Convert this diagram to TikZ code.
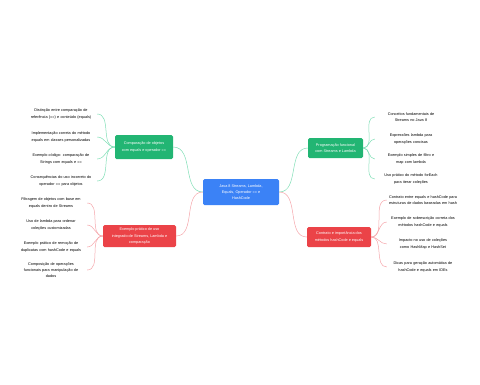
\documentclass[tikz,border=0pt]{standalone}
\usepackage{fontspec}
\setmainfont{Liberation Sans}
\usepackage{tikz}
\usetikzlibrary{positioning}
\definecolor{mmblue}{RGB}{59,130,246}
\definecolor{mmgreen}{RGB}{34,181,115}
\definecolor{mmred}{RGB}{235,67,72}
\definecolor{linkgreen}{RGB}{128,222,182}
\definecolor{linkred}{RGB}{245,165,170}

\begin{document}
\begin{tikzpicture}[x=1pt,y=-1pt,font=\fontsize{3.8}{6.2}\selectfont,
  hub/.style={rounded corners=1.5pt,fill=mmblue,text=white,align=center,inner sep=0pt,minimum width=76pt,minimum height=26pt},
  topic/.style={rounded corners=1.5pt,text=white,align=center,inner sep=0pt},
  leaf/.style={align=center,text width=72pt,inner sep=0pt},
  glink/.style={draw=linkgreen,line width=0.5pt},
  rlink/.style={draw=linkred,line width=0.5pt}]
\useasboundingbox (0,0) rectangle (480,384);
\node[hub] (java) at (241,192) {Java 8 Streams, Lambda,\\Equals, Operador == e\\HashCode};
\node[topic,fill=mmgreen,minimum width=58pt,minimum height=24pt] (cmp) at (144,147) {Comparação de objetos\\com equals e operador ==};
\node[topic,fill=mmgreen,minimum width=55pt,minimum height=20pt] (fun) at (335.5,148) {Programação funcional\\com Streams e Lambda};
\node[topic,fill=mmred,minimum width=73pt,minimum height=22pt] (pra) at (139.5,236) {Exemplo prático de uso\\integrado de Streams, Lambda e\\comparação};
\node[topic,fill=mmred,minimum width=64pt,minimum height=20pt] (hsh) at (339,237) {Contrato e importância dos\\métodos hashCode e equals};

% comparacao
\node[leaf] (cmp1) at (61,114) {Distinção entre comparação de\\referência (==) e conteúdo (equals)};
\node[leaf] (cmp2) at (61,137) {Implementação correta do método\\equals em classes personalizadas};
\node[leaf] (cmp3) at (61,159) {Exemplo código: comparação de\\Strings com equals e ==};
\node[leaf] (cmp4) at (61,181) {Consequências do uso incorreto do\\operador == para objetos};

% funcional
\node[leaf] (fun1) at (411,117) {Conceitos fundamentais de\\Streams no Java 8};
\node[leaf] (fun2) at (411,139) {Expressões lambda para\\operações concisas};
\node[leaf] (fun3) at (411,159) {Exemplo simples de filtro e\\map com lambda};
\node[leaf] (fun4) at (411,179) {Uso prático do método forEach\\para iterar coleções};

% exemplo pratico
\node[leaf] (pra1) at (51,203) {Filtragem de objetos com base em\\equals dentro de Streams};
\node[leaf] (pra2) at (51,225) {Uso de lambda para ordenar\\coleções customizadas};
\node[leaf] (pra3) at (51,247) {Exemplo prático de remoção de\\duplicatas com hashCode e equals};
\node[leaf] (pra4) at (51,270) {Composição de operações\\funcionais para manipulação de\\dados};

% hashcode
\node[leaf] (hsh1) at (423,200) {Contrato entre equals e hashCode para\\estruturas de dados baseadas em hash};
\node[leaf] (hsh2) at (423,222) {Exemplo de sobrescrição correta dos\\métodos hashCode e equals};
\node[leaf] (hsh3) at (423,244) {Impacto no uso de coleções\\como HashMap e HashSet};
\node[leaf] (hsh4) at (423,267) {Dicas para geração automática de\\hashCode e equals em IDEs};

\draw[glink] (java.west) to[out=180,in=0] (cmp.east);
\draw[glink] (java.east) to[out=0,in=180] (fun.west);
\draw[rlink] (java.west) to[out=180,in=0] (pra.east);
\draw[rlink] (java.east) to[out=0,in=180] (hsh.west);
\foreach \i in {1,...,4} {
  \draw[glink] (cmp.west) to[out=180,in=0] (cmp\i.east);
  \draw[glink] (fun.east) to[out=0,in=180] (fun\i.west);
  \draw[rlink] (pra.west) to[out=180,in=0] (pra\i.east);
  \draw[rlink] (hsh.east) to[out=0,in=180] (hsh\i.west);
}
\end{tikzpicture}
\end{document}
